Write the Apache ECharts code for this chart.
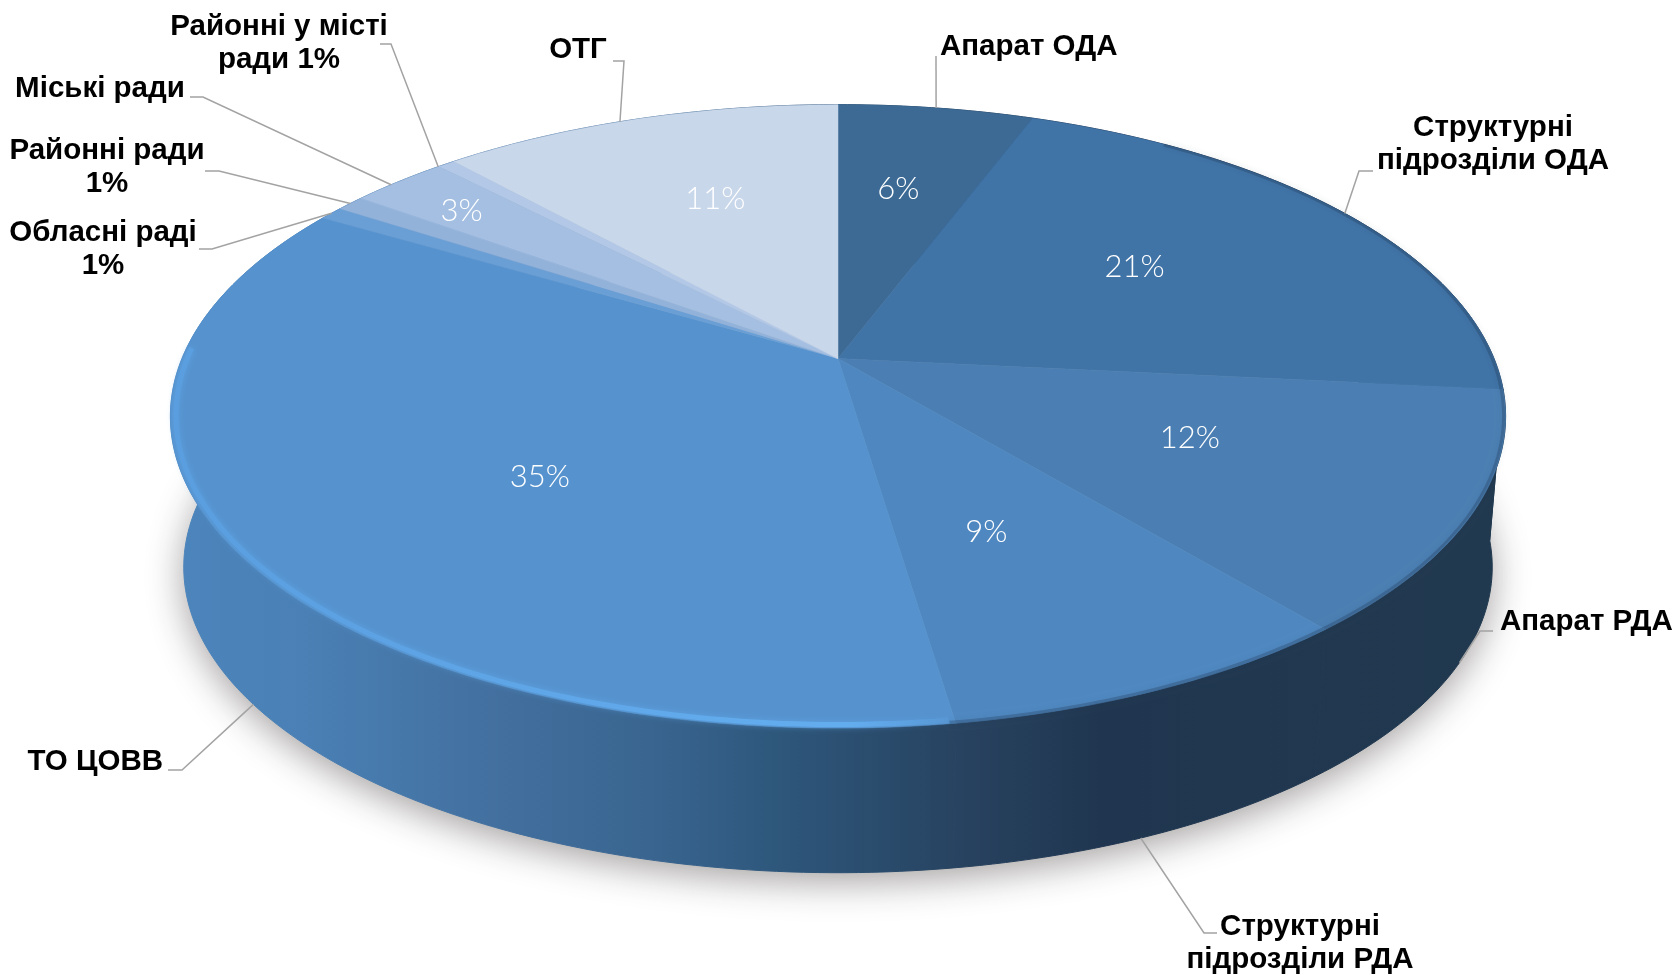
<!DOCTYPE html>
<html>
<head>
<meta charset="utf-8">
<style>html,body{margin:0;padding:0;background:#fff}#c{width:1678px;height:975px}</style>
<script src="https://cdn.jsdelivr.net/npm/echarts@6/dist/echarts.min.js"></script>
</head>
<body>
<div id="c"></div>
<script>
// ---- data (clockwise from 12 o'clock) ----
const categories = ['Апарат ОДА', 'Структурні\nпідрозділи ОДА', 'Апарат РДА', 'Структурні\nпідрозділи РДА', 'ТО ЦОВВ', 'Обласні раді\n1%', 'Районні ради\n1%', 'Міські ради', 'Районні у місті\nради 1%', 'ОТГ'];
const shares = [5.6, 20.7, 12.3, 8.55, 35.49, 0.7, 0.8, 2.8, 0.5, 11.49];
const percentShown = [true, true, true, true, true, false, false, true, false, true];

// ---- styling and layout ----
const topColors = ['#3c6a94', '#4073a6', '#4b7fb3', '#4f88c1', '#5592ce', '#6a9fd5', '#93b2da', '#a4bfe1', '#b2c8e6', '#c9d7eb'];
const percentRadius = [0.637, 0.577, 0.57, 0.56, 0.56, 0.8, 0.8, 0.83, 0.8, 0.624];
const percentTurn = [-0.9, -1.9, -1.8, 2.6, -7, 0, 0, -0.8, 0, 1.5];
const labelAnchorLower = [false, false, true, true, true, false, false, false, false, false];
const anchorTurn = [0, 0, 0, 1, -2, 0, 0, -1, -1, -2];
const labelLayout = [
  {x: 940, y: 47, align: 'left', knee: [936, 56], end: [936, 56]},
  {x: 1493, y: 144, align: 'center', knee: [1359, 171], end: [1373, 171]},
  {x: 1500, y: 622, align: 'left', knee: [1480, 631], end: [1493, 631]},
  {x: 1300, y: 943, align: 'center', knee: [1204, 933], end: [1217, 933]},
  {x: 163, y: 762, align: 'right', knee: [182, 770], end: [168, 770]},
  {x: 103, y: 249, align: 'center', knee: [212, 249], end: [199, 249]},
  {x: 107, y: 167, align: 'center', knee: [219, 171], end: [205, 171]},
  {x: 100, y: 89, align: 'center', knee: [203, 97], end: [190, 97]},
  {x: 279, y: 43, align: 'center', knee: [391, 44], end: [380, 44]},
  {x: 578, y: 50, align: 'center', knee: [624, 61], end: [613, 61]}
];
const pie = {cx: 838, cy: 358.5, a: 656, b: 301, k: -0.1856, lowerScale: 0.98, depth: 152};

// ---- projection of the tilted disc ----
const total = shares.reduce((s, v) => s + v, 0);
const starts = [];
shares.reduce((s, v, i) => { starts[i] = s; return s + v; }, 0);
const toDeg = v => v / total * 360;
function proj(deg, lower, r) {
  const t = deg * Math.PI / 180, rr = r === undefined ? 1 : r;
  const u = Math.sin(t) * rr, v = -Math.cos(t) * rr, d = 1 + pie.k * v;
  const s = lower ? pie.lowerScale : 1;
  return [pie.cx + s * pie.a * u / d, pie.cy + (lower ? pie.depth : 0) + s * pie.b * v / d];
}
function arc(a0, a1, lower, r) {
  const pts = [], n = Math.max(2, Math.ceil(Math.abs(a1 - a0)));
  for (let i = 0; i <= n; i++) pts.push(proj(a0 + (a1 - a0) * i / n, lower, r));
  return pts;
}
const wallGradient = {type: 'linear', global: true, x: 170, y: 0, x2: 1500, y2: 0, colorStops: [
  {offset: 0, color: '#4c85bc'}, {offset: 0.1, color: '#4a80b5'}, {offset: 0.25, color: '#426f9e'},
  {offset: 0.36, color: '#396590'}, {offset: 0.47, color: '#2d5579'}, {offset: 0.6, color: '#27425f'},
  {offset: 0.7, color: '#203650'}, {offset: 1, color: '#21394f'}]};

function sliceSpan(i) { const a = toDeg(starts[i]); return [a, a + toDeg(shares[i])]; }

const rows = shares.map((v, i) => [v, i]);
const common = {type: 'custom', coordinateSystem: 'none', silent: true, animation: false, data: rows};

const series = [
  {...common, name: 'shadow', data: [[total]], renderItem: () => ({
    type: 'polygon', shape: {points: arc(0, 360, true)},
    style: {fill: '#bbb', shadowBlur: 36, shadowColor: 'rgba(40,30,30,0.42)', shadowOffsetY: 9}})},
  {...common, name: 'walls', renderItem: (p, api) => {
    const [a0, a1] = sliceSpan(api.value(1));
    const pts = arc(a0, a1, false).concat(arc(a1, a0, true));
    return {type: 'polygon', shape: {points: pts}, style: {fill: wallGradient, stroke: wallGradient, lineWidth: 1}};
  }},
  {...common, name: 'tops', renderItem: (p, api) => {
    const i = api.value(1), [a0, a1] = sliceSpan(i);
    const pts = [[pie.cx, pie.cy]].concat(arc(a0, a1, false));
    return {type: 'polygon', shape: {points: pts}, style: {fill: topColors[i], stroke: topColors[i], lineWidth: 0.5}};
  }},
  {...common, name: 'darkRim', data: [[total]], renderItem: () => ({
    type: 'polyline', shape: {points: arc(35, 172, false, 0.997)},
    style: {fill: null, stroke: 'rgba(28,52,80,0.28)', lineWidth: 3, shadowBlur: 6, shadowColor: 'rgba(28,52,80,0.45)'}})},
  {...common, name: 'lightRim', data: [[total]], renderItem: () => ({
    type: 'polyline', shape: {points: arc(172, 272, false, 0.992)},
    style: {fill: null, lineWidth: 5, shadowBlur: 6, shadowColor: 'rgba(98,172,238,0.6)',
      stroke: {type: 'linear', global: true, x: 170, y: 0, x2: 965, y2: 0, colorStops: [
        {offset: 0, color: '#5a9edf'}, {offset: 0.85, color: '#63adef'}, {offset: 1, color: 'rgba(99,173,239,0)'}]}}})},
  {...common, name: 'percent', renderItem: (p, api) => {
    const i = api.value(1);
    if (!percentShown[i]) return null;
    const [a0, a1] = sliceSpan(i), c = proj((a0 + a1) / 2 + percentTurn[i], false, percentRadius[i]);
    return {type: 'text', style: {text: Math.round(api.value(0)) + '%', x: c[0], y: c[1], align: 'center', verticalAlign: 'middle',
      fill: '#fff', font: '300 31px Lato, "Open Sans", sans-serif'}};
  }},
  {...common, name: 'leaders', renderItem: (p, api) => {
    const i = api.value(1), [a0, a1] = sliceSpan(i), L = labelLayout[i];
    const anchor = proj((a0 + a1) / 2 + anchorTurn[i], labelAnchorLower[i]);
    return {type: 'polyline', shape: {points: [anchor, L.knee, L.end]}, style: {fill: null, stroke: '#a3a3a3', lineWidth: 1.5}};
  }},
  {...common, name: 'categories', renderItem: (p, api) => {
    const i = api.value(1), L = labelLayout[i];
    return {type: 'text', style: {text: categories[i], x: L.x, y: L.y, align: L.align, verticalAlign: 'middle',
      fill: '#000', lineHeight: 33, font: 'bold 29.5px "Liberation Sans", Arial, sans-serif'}};
  }}
];

const chart = echarts.init(document.getElementById('c'), null, {renderer: 'canvas', width: 1678, height: 975});
chart.setOption({backgroundColor: '#fff', animation: false, series});
</script>
</body>
</html>
